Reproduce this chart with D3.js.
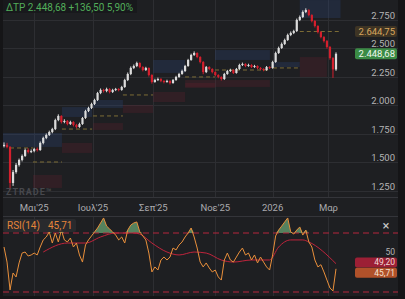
<!DOCTYPE html>
<html>
<head>
<meta charset="utf-8">
<script src="https://cdn.jsdelivr.net/npm/d3@7"></script>
<style>
html, body { margin: 0; padding: 0; background: #151517; }
svg { display: block; font-family: Roboto, "DejaVu Sans", sans-serif; }
</style>
</head>
<body>
<div id="chart"></div>
<script>
// price candles (open = previous close)
var firstOpen = 1640;
var closes = [
    1650, 1631, 1316, 1412, 1474, 1518, 1553, 1605, 1588, 1596,
    1614, 1605, 1667, 1711, 1737, 1763, 1789, 1868, 1904, 1851,
    1860, 1833, 1851, 1825, 1807, 1833, 1886, 1947, 1974, 2009,
    2044, 2105, 2132, 2123, 2140, 2114, 2132, 2140, 2132, 2158,
    2219, 2272, 2325, 2342, 2368, 2333, 2307, 2325, 2263, 2202,
    2219, 2228, 2211, 2202, 2211, 2193, 2219, 2246, 2272, 2298,
    2342, 2395, 2439, 2456, 2421, 2377, 2289, 2333, 2316, 2289,
    2263, 2246, 2228, 2272, 2298, 2307, 2281, 2316, 2351, 2360,
    2342, 2351, 2333, 2342, 2325, 2316, 2307, 2333, 2325, 2377,
    2456, 2500, 2535, 2570, 2614, 2632, 2649, 2746, 2772, 2816,
    2833, 2789, 2737, 2693, 2640, 2596, 2561, 2509, 2412, 2312.18,
    2448.68
];
var highs = [
    1672, 1668, 1640, 1430, 1490, 1530, 1566, 1618, 1620, 1610,
    1625, 1628, 1680, 1722, 1750, 1775, 1800, 1880, 1918, 1910,
    1875, 1868, 1862, 1858, 1835, 1845, 1895, 1958, 1985, 2020,
    2055, 2115, 2145, 2142, 2152, 2148, 2142, 2150, 2148, 2168,
    2230, 2285, 2338, 2355, 2380, 2375, 2340, 2335, 2330, 2270,
    2230, 2240, 2236, 2218, 2222, 2218, 2228, 2256, 2282, 2310,
    2352, 2405, 2450, 2470, 2462, 2428, 2385, 2342, 2340, 2322,
    2295, 2270, 2252, 2282, 2308, 2318, 2314, 2325, 2362, 2372,
    2366, 2362, 2358, 2352, 2348, 2332, 2322, 2342, 2340, 2388,
    2468, 2512, 2548, 2582, 2626, 2645, 2660, 2758, 2785, 2830,
    2848, 2840, 2796, 2745, 2700, 2648, 2604, 2570, 2518, 2420,
    2462
];
var lows = [
    1628, 1620, 1255, 1290, 1398, 1460, 1505, 1545, 1575, 1578,
    1585, 1592, 1598, 1655, 1700, 1728, 1752, 1780, 1858, 1838,
    1840, 1822, 1825, 1812, 1795, 1800, 1826, 1878, 1938, 1965,
    2000, 2035, 2095, 2110, 2112, 2102, 2105, 2122, 2120, 2125,
    2150, 2210, 2262, 2315, 2332, 2322, 2295, 2298, 2250, 2188,
    2195, 2210, 2200, 2190, 2195, 2180, 2186, 2212, 2238, 2265,
    2290, 2335, 2388, 2430, 2410, 2365, 2270, 2280, 2305, 2278,
    2252, 2235, 2215, 2220, 2265, 2290, 2272, 2275, 2308, 2342,
    2332, 2335, 2325, 2326, 2315, 2306, 2296, 2300, 2315, 2318,
    2370, 2448, 2492, 2526, 2562, 2604, 2622, 2640, 2736, 2762,
    2806, 2778, 2725, 2680, 2628, 2585, 2548, 2495, 2398, 2238,
    2300
];

// RSI(14) and its average
var rsi = [
    60.5, 50.3, 31.4, 42.9, 40.2, 49.7, 56.4, 57.1, 54.4, 55.1,
    56.4, 55.1, 60.5, 65.3, 67.3, 70.7, 63.2, 70, 63.9, 72,
    65.3, 63.9, 66.6, 60.5, 63.2, 55.1, 50.3, 61.9, 65.3, 68,
    70.7, 73.4, 76.8, 80.2, 74.7, 72.7, 70.7, 68.6, 65.3, 67.3,
    63.2, 72, 75.4, 76.8, 77.5, 70.7, 68, 65.3, 56.4, 43.6,
    47, 44.9, 51.7, 53.7, 51.7, 53.7, 59.8, 58.5, 61.9, 63.9,
    67.3, 70, 73.4, 67.3, 59.8, 50.3, 47, 49.7, 46.3, 43.6,
    44.9, 40.2, 38.1, 51.7, 56.4, 51.7, 50.3, 53.7, 57.1, 59.8,
    55.1, 56.4, 51.7, 55.1, 49.7, 53.7, 50.3, 47, 44.9, 55.1,
    68, 72, 74.7, 77.5, 80.2, 70.7, 69.3, 72, 74.1, 68.6,
    72, 63.9, 60.5, 51.7, 47, 48.5, 43.6, 38.1, 32.7, 30.7,
    45.71
];
var rsiMaIdx = [13, 21, 27, 32, 37, 43, 45, 49, 54, 58, 63, 67, 72, 76, 82, 88, 91, 95, 99, 101, 110];
var rsiMaVal = [57.1, 63.2, 63.2, 67.3, 70, 70, 69.3, 63.2, 57.1, 55.1, 57.1, 56.4, 51.7, 50.3, 51.7, 51.7, 60.5, 65.3, 65.3, 63.9, 49.2];

// period value areas: kind b = upper, r = lower, p = control line
var zoneKind = ['b', 'p', 'p', 'r', 'b', 'r', 'p', 'b', 'r', 'p', 'r', 'p', 'b', 'r', 'r', 'p', 'b', 'p', 'r', 'b', 'p', 'b', 'r', 'p'];
var zoneFrom = [-0.5, 2, 9.6, 9.6, 19.2, 19.2, 19.2, 29.5, 29.5, 29.5, 39.4, 39.4, 49.4, 49.4, 60, 60, 69.9, 69.9, 60, 89.1, 89.1, 98, 98, 98];
var zoneTo = [19.2, 9.6, 19.2, 19.2, 29.2, 29.2, 29.2, 39.4, 39.4, 39.4, 49.4, 49.4, 60, 60, 69.9, 69.9, 88.1, 88.1, 88.1, 98, 98, 111.5, 107, 111.5];
var zoneHigh = [1754, 1623, 1500, 1386, 1982, 1667, 1789, 2044, 1842, 1904, 2000, 2088, 2395, 2114, 2193, 2246, 2482, 2307, 2219, 2377, 2325, 2921, 2421, 2644.75];
var zoneLow = [1632, 1623, 1500, 1272, 1895, 1579, 1789, 1974, 1781, 1904, 1930, 2088, 2281, 2026, 2149, 2246, 2395, 2307, 2158, 2333, 2325, 2763, 2246, 2644.75];

var monthTicks = [10, 29.5, 49.5, 70, 89, 107.5];
var monthLabels = ["Μαι'25", "Ιουλ'25", "Σεπ'25", "Νοε'25", "2026", "Μαρ"];
var priceTicks = [1250, 1500, 1750, 2000, 2250, 2500, 2750];

var W = 405, H = 299;
var left = 3, right = 398;
var gr = d3.formatLocale({ decimal: ",", thousands: ".", grouping: [3], currency: ["", "€"] });
var fmtInt = gr.format(",.0f");
var fmt2 = gr.format(",.2f");

var svg = d3.select("#chart").append("svg").attr("width", W).attr("height", H);

var x = d3.scaleLinear().domain([0, closes.length - 1]).range([4, 336]);
var y = d3.scaleLinear().domain([1250, 2750]).range([190.5, 19.5]);
var yr = d3.scaleLinear().domain([30, 70]).range([292, 233]);

svg.append("rect").attr("x", left).attr("y", 0).attr("width", right - left).attr("height", 296).attr("fill", "#1e1f22");

var defs = svg.append("defs");
defs.append("clipPath").attr("id", "clipMain").append("rect")
    .attr("x", left).attr("y", 0).attr("width", right - left).attr("height", 197);
defs.append("clipPath").attr("id", "clipRsi").append("rect")
    .attr("x", left).attr("y", 216).attr("width", right - left).attr("height", 80);

// grid
var grid = svg.append("g").attr("stroke", "#2d2e32").attr("stroke-width", 1);
grid.selectAll(".hgrid").data(priceTicks).enter().append("line")
    .attr("class", "hgrid")
    .attr("x1", left).attr("x2", right)
    .attr("y1", function(d) { return Math.round(y(d)) + 0.5; })
    .attr("y2", function(d) { return Math.round(y(d)) + 0.5; });
[[0, 197], [216, 296]].forEach(function(span) {
    grid.selectAll(null).data(monthTicks).enter().append("line")
        .attr("x1", function(d) { return Math.round(x(d)) + 0.5; })
        .attr("x2", function(d) { return Math.round(x(d)) + 0.5; })
        .attr("y1", span[0]).attr("y2", span[1]);
});
grid.append("line").attr("x1", left).attr("x2", right).attr("y1", 197.5).attr("y2", 197.5).attr("stroke", "#34353a");
grid.append("line").attr("x1", left).attr("x2", right).attr("y1", 216.5).attr("y2", 216.5).attr("stroke", "#34353a");

// main pane
var main = svg.append("g").attr("clip-path", "url(#clipMain)");

var zones = zoneKind.map(function(k, i) {
    return { kind: k, from: zoneFrom[i], to: zoneTo[i], hi: zoneHigh[i], lo: zoneLow[i] };
});
main.selectAll(".zone").data(zones.filter(function(z) { return z.kind != 'p'; })).enter().append("rect")
    .attr("class", "zone")
    .attr("x", function(d) { return x(d.from); })
    .attr("width", function(d) { return x(d.to) - x(d.from); })
    .attr("y", function(d) { return y(d.hi); })
    .attr("height", function(d) { return y(d.lo) - y(d.hi); })
    .attr("fill", function(d) { return d.kind == 'b' ? "#2e4a85" : "#7d2532"; })
    .attr("opacity", function(d) { return d.kind == 'b' ? 0.26 : 0.2; });
main.selectAll(".poc").data(zones.filter(function(z) { return z.kind == 'p'; })).enter().append("line")
    .attr("class", "poc")
    .attr("x1", function(d) { return x(d.from); })
    .attr("x2", function(d) { return x(d.to); })
    .attr("y1", function(d) { return y(d.hi); })
    .attr("y2", function(d) { return y(d.hi); })
    .attr("stroke", "#7d6d36").attr("stroke-width", 1).attr("stroke-dasharray", "4,3");

var candles = closes.map(function(c, i) {
    return { i: i, o: i ? closes[i - 1] : firstOpen, c: c, h: highs[i], l: lows[i] };
});
var candleColor = function(d) { return d.c >= d.o ? "#dcdcdc" : "#d41f2d"; };
var cg = main.selectAll(".candle").data(candles).enter().append("g").attr("class", "candle");
cg.append("line")
    .attr("x1", function(d) { return x(d.i); })
    .attr("x2", function(d) { return x(d.i); })
    .attr("y1", function(d) { return y(d.h); })
    .attr("y2", function(d) { return y(d.l); })
    .attr("stroke", candleColor).attr("stroke-width", 1);
cg.append("rect")
    .attr("x", function(d) { return x(d.i) - 1.1; })
    .attr("width", 2.2)
    .attr("y", function(d) { return y(Math.max(d.o, d.c)); })
    .attr("height", function(d) { return Math.max(1, Math.abs(y(d.o) - y(d.c))); })
    .attr("fill", candleColor);

svg.append("text").attr("x", 6).attr("y", 195)
    .attr("fill", "#47484d").attr("font-size", 9).attr("font-weight", "bold")
    .attr("letter-spacing", 1).text("ZTRADE™");

// price axis labels
svg.selectAll(".plabel").data(priceTicks).enter().append("text")
    .attr("class", "plabel")
    .attr("x", 395).attr("y", function(d) { return y(d) - 4; })
    .attr("dy", "0.35em").attr("text-anchor", "end")
    .attr("fill", "#b4b4b4").attr("font-size", 9.5)
    .text(function(d) { return fmtInt(d); });

var last = closes[closes.length - 1];
var prev = closes[closes.length - 2];
var poc = zoneHigh[zoneHigh.length - 1];

function tag(value, scale, bg, fg, label, h, fs, shift) {
    var cy = scale(value) + (shift || 0);
    var g = svg.append("g");
    g.append("rect").attr("x", 355).attr("y", cy - h / 2)
        .attr("width", 42).attr("height", h).attr("rx", 2).attr("fill", bg);
    g.append("text").attr("x", 395).attr("y", cy).attr("dy", "0.35em")
        .attr("text-anchor", "end").attr("fill", fg).attr("font-size", fs).text(label);
}
tag(poc, y, "#3e3424", "#d9a75e", fmt2(poc), 11, 9.5);
tag(last, y, "#3b8b45", "#eef7ee", fmt2(last), 11, 9.5);

// header
svg.append("rect").attr("x", left).attr("y", 0).attr("width", 134).attr("height", 13).attr("fill", "#18191b").attr("opacity", 0.85);
svg.append("text").attr("x", 6).attr("y", 10.5)
    .attr("fill", "#52ad5a").attr("font-size", 10)
    .text("ΔΤΡ " + fmt2(last) + " +" + fmt2(last - prev) + " " + fmt2((last - prev) / prev * 100) + "%");

// time axis
svg.selectAll(".tlabel").data(monthTicks).enter().append("text")
    .attr("class", "tlabel")
    .attr("x", function(d) { return x(d); }).attr("y", 211)
    .attr("text-anchor", "middle").attr("fill", "#a9a9ad").attr("font-size", 9.5)
    .text(function(d, i) { return monthLabels[i]; });

// RSI pane
var rp = svg.append("g").attr("clip-path", "url(#clipRsi)");

rp.append("path").datum(rsi)
    .attr("fill", "#5f9468").attr("opacity", 0.85)
    .attr("d", d3.area()
        .x(function(d, i) { return x(i); })
        .y0(yr(70))
        .y1(function(d) { return yr(Math.max(d, 70)); }));

[70, 30].forEach(function(level) {
    rp.append("line").attr("x1", left).attr("x2", right)
        .attr("y1", yr(level)).attr("y2", yr(level))
        .attr("stroke", "#b3263c").attr("stroke-width", 1.2).attr("stroke-dasharray", "6,4");
});

rp.append("path").datum(rsiMaIdx)
    .attr("fill", "none").attr("stroke", "#c0243c").attr("stroke-width", 1)
    .attr("d", d3.line()
        .curve(d3.curveMonotoneX)
        .x(function(d) { return x(d); })
        .y(function(d, i) { return yr(rsiMaVal[i]); }));

rp.append("path").datum(rsi)
    .attr("fill", "none").attr("stroke", "#e98f3b").attr("stroke-width", 1)
    .attr("d", d3.line()
        .x(function(d, i) { return x(i); })
        .y(function(d) { return yr(d); }));

svg.append("rect").attr("x", left).attr("y", 219).attr("width", 73).attr("height", 13).attr("rx", 2).attr("fill", "#2a2b2f").attr("opacity", 0.9);
svg.append("text").attr("x", 7).attr("y", 229).attr("fill", "#e5853a").attr("font-size", 10).text("RSI(14)");
svg.append("text").attr("x", 48).attr("y", 229).attr("fill", "#e5853a").attr("font-size", 10).text(fmt2(rsi[rsi.length - 1]));
svg.append("text").attr("x", 386).attr("y", 230).attr("text-anchor", "middle").attr("fill", "#c8c8c8").attr("font-size", 13).text("×");

svg.append("text").attr("x", 395).attr("y", yr(50) - 10.5).attr("dy", "0.35em")
    .attr("text-anchor", "end").attr("fill", "#b4b4b4").attr("font-size", 8.5).text("50");
var maLast = rsiMaVal[rsiMaVal.length - 1];
tag(maLast, yr, "#9c1f35", "#f3d6d6", fmt2(maLast), 10, 8.5, -1.2);
tag(rsi[rsi.length - 1], yr, "#b0512a", "#f7e2d2", fmt2(rsi[rsi.length - 1]), 10, 8.5, 4);
</script>
</body>
</html>
